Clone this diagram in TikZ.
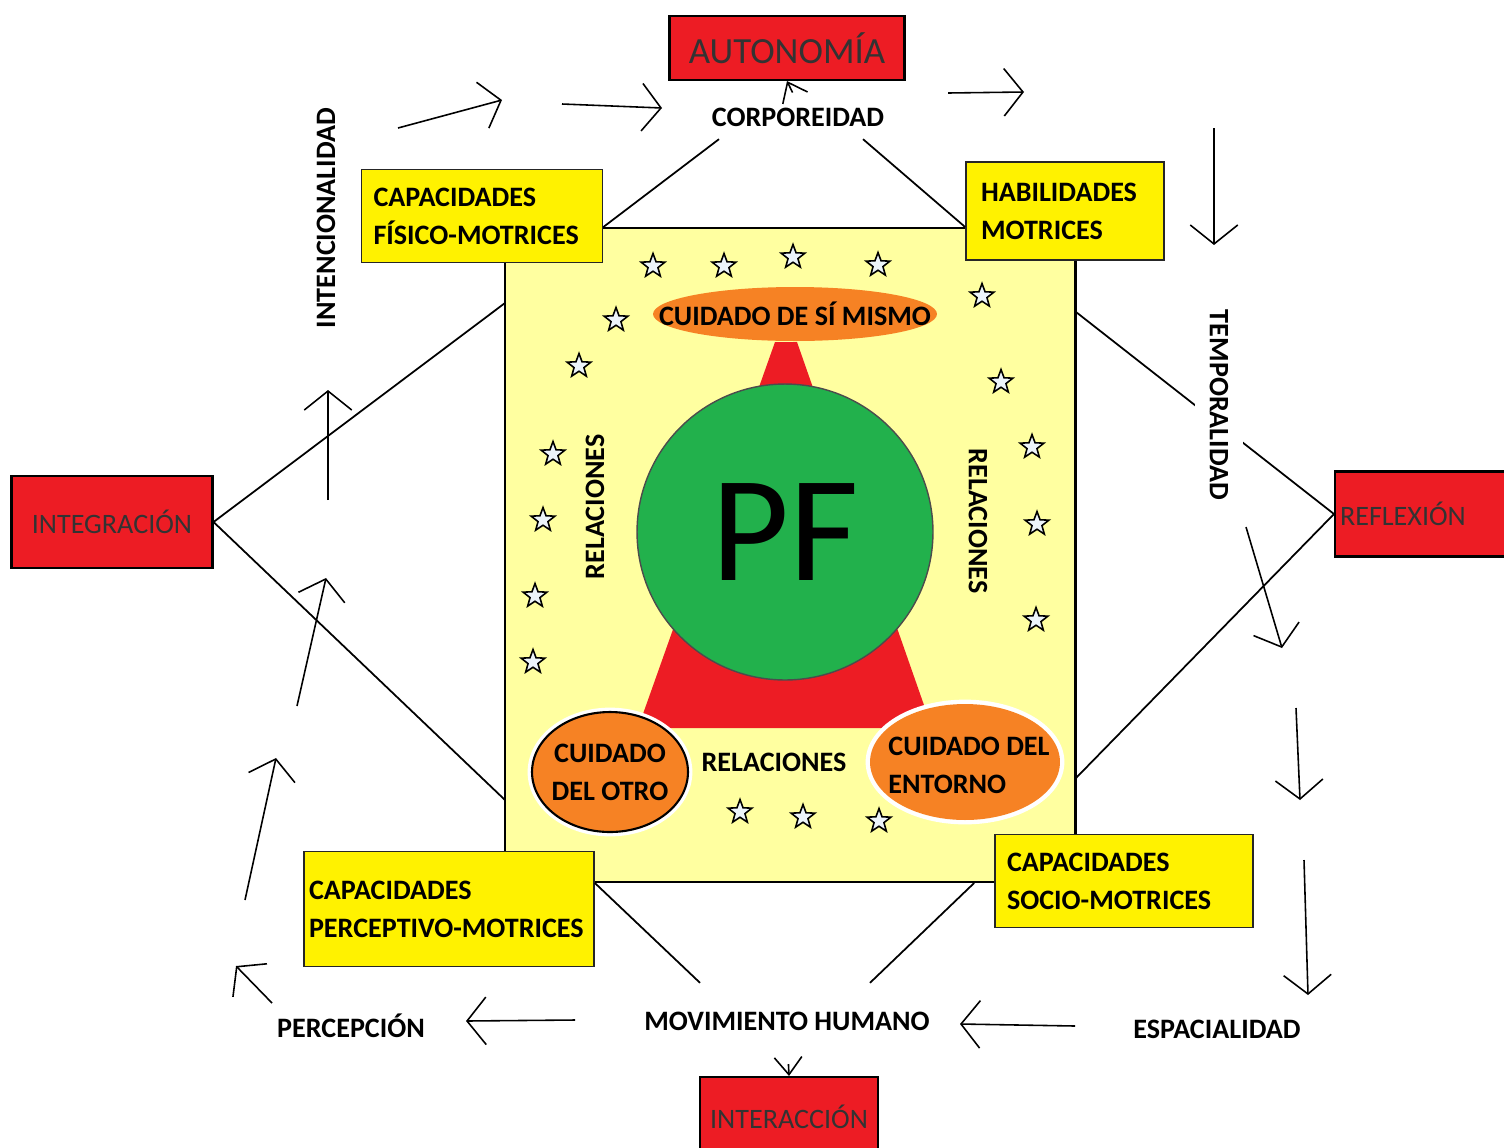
\documentclass[tikz,border=0pt]{standalone}
\usepackage{fontspec}
\setmainfont{Carlito}
\usepackage{xcolor}
\usepackage{tikz}
\usetikzlibrary{shapes.geometric, arrows.meta, positioning, calc}

\definecolor{paintred}{RGB}{237,28,36}
\definecolor{paintyellow}{RGB}{255,242,0}
\definecolor{paleyellow}{RGB}{255,255,160}
\definecolor{paintgreen}{RGB}{34,177,76}
\definecolor{paintorange}{RGB}{246,130,36}
\definecolor{starwhite}{RGB}{236,244,250}

\begin{document}
\begin{tikzpicture}[
    x=0.02cm, y=-0.02cm,
    redbox/.style={rectangle, draw=black, line width=1.2pt, fill=paintred, text=black!80, font=\fontsize{16}{20}\selectfont},
    yellowbox/.style={rectangle, draw=black!85, line width=1pt, fill=paintyellow, align=left, font=\fontsize{16}{21.6}\selectfont\bfseries},
    word/.style={inner sep=2pt, font=\fontsize{16}{21.6}\selectfont\bfseries},
    oval/.style={ellipse, fill=paintorange, inner sep=0pt},
    halo/.style={preaction={draw=white, line width=5pt}},
    smallstar/.style={star, star points=5, star point ratio=2.4, draw, fill=starwhite, line width=0.9pt, minimum size=0.5cm, inner sep=0pt},
    thinline/.style={line width=1pt},
    arrow/.style={line width=0.9pt, -{Straight Barb[length=0.38cm, width=0.95cm]}},
    tinyarrow/.style={line width=0.9pt, -{Straight Barb[length=0.35cm, width=0.55cm]}}
]
\useasboundingbox (0,0) rectangle (1504,1147);

% Central panel
\node[rectangle, draw, line width=1.2pt, fill=paleyellow, minimum width=11.42cm, minimum height=13.08cm] (marco) at (790,555) {};
\fill[paintred] (775,342) -- (797,342) -- (932,728) -- (638,728) -- cycle;
\node[circle, draw=black!70, line width=0.8pt, fill=paintgreen, minimum size=5.92cm, inner sep=0pt, font=\fontsize{86}{86}\selectfont] (pf) at (785,532) {PF};

% Care ovals
\node[oval, minimum width=5.68cm, minimum height=1.08cm] (simismo) at (795,314) {};
\node[word] (simismo-t) at (simismo) {CUIDADO DE SÍ MISMO};
\node[oval, halo, draw=black, line width=1.2pt, minimum width=3.12cm, minimum height=2.4cm] (otro) at (610,772) {};
\node[word, align=center] (otro-t) at (otro) {CUIDADO\\DEL OTRO};
\node[oval, halo, minimum width=3.8cm, minimum height=2.32cm] (entorno) at (965,762) {};
\node[word, align=left] (entorno-t) at (969,765) {CUIDADO DEL\\ENTORNO};

% Relations
\node[word, rotate=90] (rel-l) at (595,507) {RELACIONES};
\node[word, rotate=-90] (rel-r) at (978,521) {RELACIONES};
\node[word] (rel-b) at (774,762) {RELACIONES};

% Stars
\foreach \sx/\sy [count=\i] in {653/266, 724/266, 793/257, 878/265, 982/296, 616/320, 579/366,
    1001/382, 553/454, 1032/447, 543/520, 1037/524, 535/596, 1036/620, 533/662, 740/812, 803/817, 879/821}
    \node[smallstar] (star\i) at (\sx,\sy) {};

% Red boxes
\node[redbox, minimum width=4.7cm, minimum height=1.28cm, font=\fontsize{21}{24}\selectfont] (auto) at (787,48) {AUTONOMÍA};
\node[redbox, minimum width=4.02cm, minimum height=1.84cm] (integ) at (112,522) {INTEGRACIÓN};
\node[redbox, minimum height=1.7cm, text width=3.8cm, align=left, inner xsep=0.1cm] (refl) at (1435,514) {REFLEXIÓN};
\node[redbox, minimum width=3.56cm, minimum height=1.6cm] (inter) at (789,1117) {INTERACCIÓN};

% Yellow boxes
\node[yellowbox, text width=4.34cm, inner xsep=0.24cm, minimum height=1.86cm] (fisico) at (482,216) {CAPACIDADES\\FÍSICO-MOTRICES};
\node[yellowbox, text width=3.36cm, inner xsep=0.3cm, minimum height=1.96cm] (habil) at (1065,211) {HABILIDADES\\MOTRICES};
\node[yellowbox, text width=5.6cm, inner xsep=0.1cm, minimum height=2.3cm] (percep) at (449,909) {CAPACIDADES\\PERCEPTIVO-MOTRICES};
\node[yellowbox, text width=4.68cm, inner xsep=0.24cm, minimum height=1.86cm] (socio) at (1124,881) {CAPACIDADES\\SOCIO-MOTRICES};

% Outer words
\node[word] (corp) at (798,117) {CORPOREIDAD};
\node[word] (movim) at (787,1021) {MOVIMIENTO HUMANO};
\node[word] (espac) at (1217,1029) {ESPACIALIDAD};
\node[word] (percepcion) at (351,1026) {PERCEPCIÓN};
\node[word, rotate=90] (intenc) at (326,218) {INTENCIONALIDAD};

% Panel edges
\coordinate (panelL1) at (505,303);
\coordinate (panelL2) at (505,800);
\coordinate (panelR1) at (1076,312);
\coordinate (panelR2) at (1076,778);

% Lines
\draw[thinline] (integ.east) -- (panelL1);
\draw[thinline] (integ.east) -- (panelL2);
\draw[thinline] (refl.west) -- (panelR1);
\draw[thinline] (refl.west) -- (panelR2);
\draw[thinline] ($(corp.south west)+(11,9)$) -- (fisico.east |- marco.north);
\draw[thinline] ($(corp.south east)+(-25,9)$) -- (habil.west |- marco.north);
\draw[thinline] ($(movim.north)+(-87,-25)$) -- (percep.east |- marco.south);
\draw[thinline] ($(movim.north)+(83,-25)$) -- ($(socio.west |- marco.south)+(-20,0)$);

% Arrows
\draw[tinyarrow, shorten <=0.25cm] (corp.north) -- (auto.south);
\draw[tinyarrow, shorten <=0.6cm] (movim.south) -- (inter.north);
\foreach \xa/\ya/\xb/\yb [count=\k] in {398/128/502/100, 562/104/662/108, 948/93/1024/92,
    1214/128/1214/245, 1246/527/1282/648, 1296/708/1300/800, 1304/860/1308/995,
    1075/1026/960/1024, 575/1020/466/1021, 272/1003/236/966,
    245/900/276/758, 297/706/326/578, 328/500/328/390}{
  \coordinate (from\k) at (\xa,\ya);
  \coordinate (to\k) at (\xb,\yb);
  \draw[arrow] (from\k) -- (to\k);
}

% Time axis label
\node[word, rotate=-90, fill=white, inner ysep=0.3cm] (temporal) at (1219,405) {TEMPORALIDAD};
\end{tikzpicture}
\end{document}
